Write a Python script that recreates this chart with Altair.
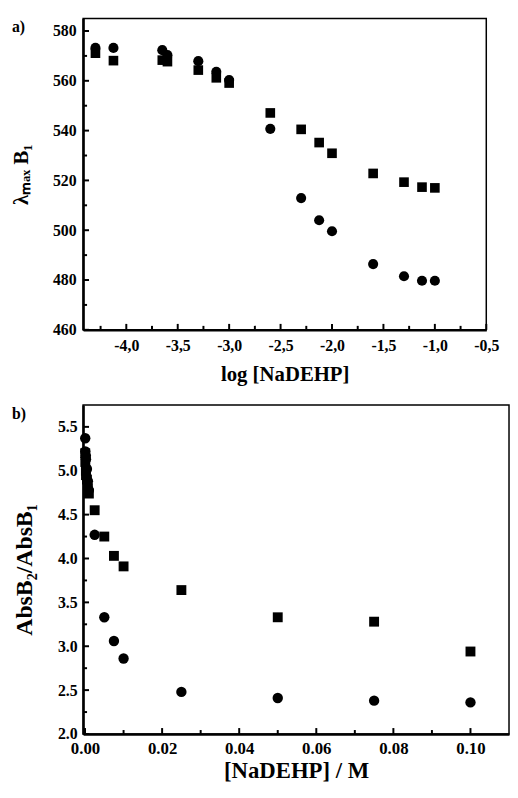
import altair as alt
import pandas as pd

FONT = "Liberation Serif"

# ---------------- Panel a data ----------------
log_conc = [-4.30, -4.125, -3.65, -3.60, -3.30, -3.125, -3.00, -2.60,
            -2.30, -2.125, -2.00, -1.60, -1.30, -1.125, -1.00]
lam_circle = [573.2, 573.2, 572.3, 570.3, 567.9, 563.6, 560.3, 540.7,
              512.9, 504.0, 499.6, 486.4, 481.5, 479.7, 479.7]
lam_square = [571.1, 568.1, 568.3, 567.7, 564.3, 561.2, 559.1, 547.1,
              540.5, 535.2, 530.9, 522.8, 519.3, 517.3, 517.0]

# ---------------- Panel b data ----------------
conc = [0.00005, 0.000075, 0.000224, 0.00025, 0.0005, 0.00075, 0.001,
        0.0025, 0.005, 0.0075, 0.01, 0.025, 0.05, 0.075, 0.1]
ratio_circle = [5.37, 5.22, 5.17, 5.13, 5.02, 4.88, 4.78,
                4.27, 3.33, 3.06, 2.86, 2.48, 2.41, 2.38, 2.36]
ratio_square = [5.20, 5.10, 5.00, 4.95, 4.90, 4.80, 4.74,
                4.55, 4.25, 4.03, 3.91, 3.64, 3.33, 3.28, 2.94]

# ---------------- Ticks ----------------
a_x_major = [-4.0, -3.5, -3.0, -2.5, -2.0, -1.5, -1.0, -0.5]
a_x_minor = [-4.25, -3.75, -3.25, -2.75, -2.25, -1.75, -1.25, -0.75]
a_y_major = [460, 480, 500, 520, 540, 560, 580]
a_y_minor = [470, 490, 510, 530, 550, 570]
b_x_major = [0.00, 0.02, 0.04, 0.06, 0.08, 0.10]
b_x_minor = [0.01, 0.03, 0.05, 0.07, 0.09]
b_y_major = [2.0, 2.5, 3.0, 3.5, 4.0, 4.5, 5.0, 5.5]
b_y_minor = [2.25, 2.75, 3.25, 3.75, 4.25, 4.75, 5.25]

a_x_domain = [-4.42, -0.5]
a_y_domain = [460, 585]
b_x_domain = [-0.0005, 0.11]
b_y_domain = [2.0, 5.75]


def panel(xs, y_circle, y_square, xdom, ydom, xmaj, xmin, ymaj, ymin,
          xtitle, ytitle, xfmt, yfmt, label, W, H,
          lab_x, lab_y, tit_x, tit_y, xlp, xtp, ylp, ytp, msize):
    xscale = alt.Scale(domain=xdom, nice=False, zero=False)
    yscale = alt.Scale(domain=ydom, nice=False, zero=False)
    xaxis = alt.Axis(values=xmaj, labelExpr=xfmt, ticks=False, grid=False,
                     domain=True, domainColor="black", domainWidth=2.5,
                     labelFont=FONT, labelFontWeight="bold", labelFontSize=lab_x,
                     labelColor="black", labelPadding=xlp, labelFlush=False,
                     labelOverlap=False,
                     titleFont=FONT, titleFontWeight="bold", titleFontSize=tit_x,
                     titleColor="black", titlePadding=xtp)
    yaxis = alt.Axis(values=ymaj, labelExpr=yfmt, ticks=False, grid=False,
                     domain=True, domainColor="black", domainWidth=2.5,
                     labelFont=FONT, labelFontWeight="bold", labelFontSize=lab_y,
                     labelColor="black", labelPadding=ylp, labelFlush=False,
                     labelOverlap=False,
                     titleFont=FONT, titleFontWeight="bold", titleFontSize=tit_y,
                     titleColor="black", titlePadding=ytp)

    df_sq = pd.DataFrame({"x": xs, "y": y_square})
    df_ci = pd.DataFrame({"x": xs, "y": y_circle})

    squares = alt.Chart(df_sq).mark_point(
        shape="square", filled=True, size=msize, color="black", opacity=1
    ).encode(
        x=alt.X("x:Q", scale=xscale, axis=xaxis, title=xtitle),
        y=alt.Y("y:Q", scale=yscale, axis=yaxis, title=ytitle),
    )
    circles = alt.Chart(df_ci).mark_point(
        shape="circle", filled=True, size=msize + 10, color="black", opacity=1
    ).encode(
        x=alt.X("x:Q", scale=xscale, title=xtitle),
        y=alt.Y("y:Q", scale=yscale, title=ytitle),
    )

    def xticks(vals, L):
        return alt.Chart(pd.DataFrame({"x": vals})).mark_rule(
            color="black", strokeWidth=2
        ).encode(x=alt.X("x:Q", scale=xscale, title=xtitle),
                 y=alt.value(H), y2=alt.value(H - L))

    def yticks(vals, L):
        return alt.Chart(pd.DataFrame({"y": vals})).mark_rule(
            color="black", strokeWidth=2
        ).encode(y=alt.Y("y:Q", scale=yscale, title=ytitle),
                 x=alt.value(0), x2=alt.value(L))

    lab = alt.Chart(pd.DataFrame({"t": [label]})).mark_text(
        align="left", baseline="alphabetic", font=FONT, fontWeight="bold",
        fontSize=16, color="black"
    ).encode(x=alt.value(-72), y=alt.value(14), text="t:N")

    return alt.layer(
        squares, circles,
        xticks(xmaj, 6), xticks(xmin, 4),
        yticks(ymaj, 6), yticks(ymin, 4),
        lab,
    ).properties(width=W, height=H)


comma_fmt = "replace(replace(format(datum.value, '.1f'), '.', ','), '\u2212', '-')"

pa = panel(log_conc, lam_circle, lam_square, a_x_domain, a_y_domain,
           a_x_major, a_x_minor, a_y_major, a_y_minor,
           "log [NaDEHP]", "λₘₐₓ B₁",
           comma_fmt, "format(datum.value, 'd')", "a)", 408, 315,
           16, 16, 21, 21, 8, 10, 7, 21, 95)

pb = panel(conc, ratio_circle, ratio_square, b_x_domain, b_y_domain,
           b_x_major, b_x_minor, b_y_major, b_y_minor,
           "[NaDEHP] / M", "AbsB₂/AbsB₁",
           "format(datum.value, '.2f')", "format(datum.value, '.1f')", "b)", 431, 333,
           17, 16, 23, 24, 7, 3, 6, 21, 100)

chart = alt.vconcat(pa, pb, spacing=76, bounds="flush").properties(
    autosize=alt.AutoSizeParams(type="none"),
    padding={"left": 76, "top": 6, "right": 432, "bottom": 776},
).configure_view(stroke="black", strokeWidth=1.5)

chart.save("out.html", embed_options={"renderer": "svg", "actions": False})
